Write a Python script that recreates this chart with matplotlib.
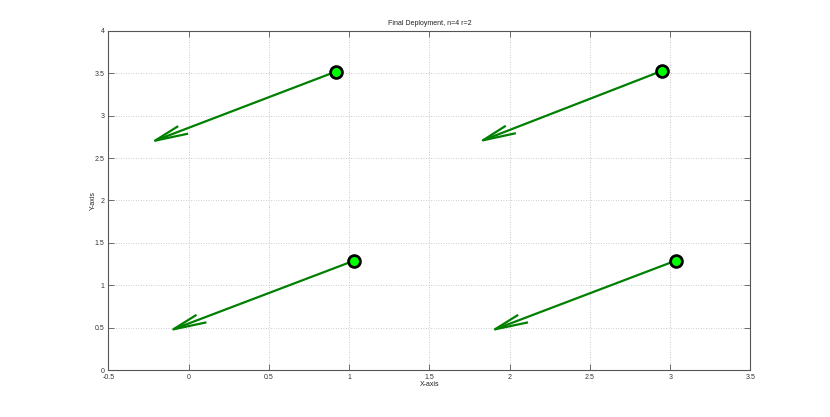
import numpy as np
import matplotlib
matplotlib.use("Agg")
import matplotlib.pyplot as plt

plt.rcParams['font.family'] = ['Liberation Sans', 'DejaVu Sans']

# node positions (arrow tails) and arrow vectors
node_x = [0.916, 2.949, 1.030, 3.034]
node_y = [3.520, 3.530, 1.290, 1.290]
vec_u = [-1.126, -1.116, -1.126, -1.126]
vec_v = [-0.814, -0.820, -0.810, -0.810]

xticks = [-0.5, 0, 0.5, 1, 1.5, 2, 2.5, 3, 3.5]
yticks = [0, 0.5, 1, 1.5, 2, 2.5, 3, 3.5, 4]
xticklabels = ['-0.5', '0', '0.5', '1', '1.5', '2', '2.5', '3', '3.5']
yticklabels = ['0', '0.5', '1', '1.5', '2', '2.5', '3', '3.5', '4']

alpha, beta = 0.15, 0.25
arrow_color = '#008000'

fig = plt.figure(figsize=(8.3, 4.17), dpi=100)
ax = fig.add_axes([0.1307, 0.1127, 0.7735, 0.813])

for x, y, u, v in zip(node_x, node_y, vec_u, vec_v):
    tx, ty = x + u, y + v
    ax.plot([x, tx], [y, ty], color=arrow_color, lw=1.6, solid_capstyle='butt', zorder=3)
    h1 = (tx - alpha * u + alpha * beta * v, ty - alpha * v - alpha * beta * u)
    h2 = (tx - alpha * u - alpha * beta * v, ty - alpha * v + alpha * beta * u)
    ax.plot([h1[0], tx, h2[0]], [h1[1], ty, h2[1]], color=arrow_color, lw=1.6, zorder=3)

ax.plot(node_x, node_y, linestyle='none', marker='o', markersize=8.5,
        markerfacecolor='#00ff00', markeredgecolor='black', markeredgewidth=2.0, zorder=4)

ax.set_xlim(-0.5, 3.5)
ax.set_ylim(0, 4)
ax.set_xticks(xticks)
ax.set_xticklabels(xticklabels)
ax.set_yticks(yticks)
ax.set_yticklabels(yticklabels)
ax.tick_params(direction='in', top=True, right=True, labelsize=5, length=4,
               width=0.6, colors='#555555', labelcolor='#333333', pad=3)
ax.grid(True, linestyle=(0, (1, 2)), color='#bbbbbb', linewidth=0.6)
for s in ax.spines.values():
    s.set_color('#555555')
    s.set_linewidth(0.8)

ax.set_title('Final Deployment, n=4 r=2', fontsize=5, color='#222222', pad=4)
ax.set_xlabel('X-axis', fontsize=5, color='#222222', labelpad=0)
ax.set_ylabel('Y-axis', fontsize=5, color='#222222', labelpad=-2)

fig.savefig('out.png', dpi=100)
